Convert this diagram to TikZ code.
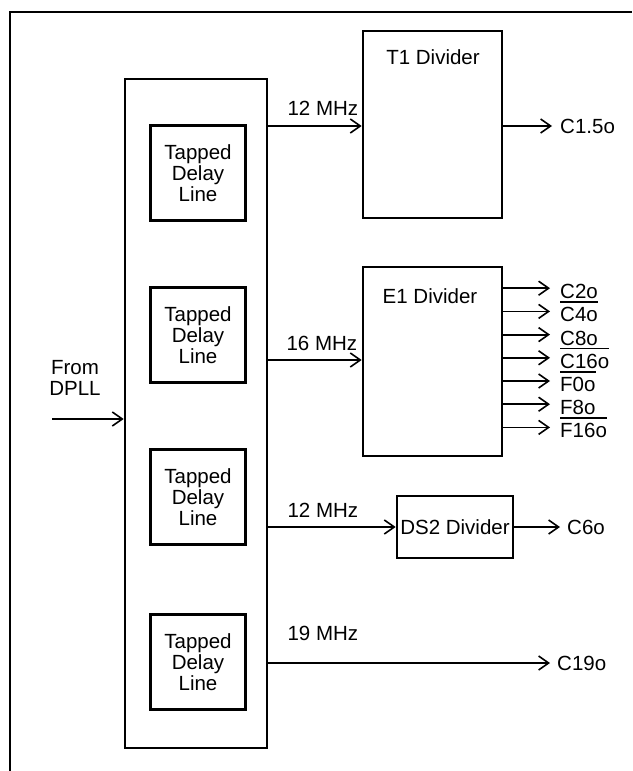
\documentclass[tikz,border=0pt]{standalone}
\usepackage{fontspec}
\setmainfont{Liberation Sans}
\usetikzlibrary{arrows.meta}

% overline with a clear gap above the label
\newcommand{\ovl}[1]{\setbox0=\hbox{#1}\rlap{\rule[\dimexpr\ht0+4.5pt\relax]{\wd0}{1.8pt}}\box0}

\begin{document}
\begin{tikzpicture}[x=1pt, y=-1pt,
    font=\fontsize{20.5}{21}\selectfont,
    box/.style={draw, line width=2.6pt, inner sep=0pt},
    sig/.style={line width=1.8pt, -{Straight Barb[length=10pt, width=14pt, line width=1.6pt]}},
    outlbl/.style={anchor=base west, inner sep=0pt}]
    \useasboundingbox (0,0) rectangle (632,771);

    % Page frame (only top and left edges show)
    \draw[line width=2.6pt] (10,771) -- (10,12) -- (632,12);

    % Delay line block with four tapped delay lines
    \node[box, minimum width=142pt, minimum height=669pt] (tdl) at (196,413.5) {};
    \foreach \y [count=\i] in {173,335,497,662}
        \node[box, minimum width=95pt, minimum height=95pt, align=center]
            (tap\i) at (198,\y) {Tapped\\Delay\\Line};

    % Input from DPLL
    \node[align=center] (from) at (75,378) {From\\DPLL};
    \coordinate (dpll) at (52,419);
    \draw[sig] (dpll) -- (dpll -| tdl.west);

    % Dividers
    \node[box, minimum width=139pt, minimum height=187pt] (T1) at (432.5,124.5) {};
    \node (T1txt) at (433,57) {T1 Divider};
    \node[box, minimum width=139pt, minimum height=189pt] (E1) at (432.5,361.5) {};
    \node (E1txt) at (430,296) {E1 Divider};
    \node[box, minimum width=116pt, minimum height=62pt] (DS2) at (455,527) {DS2 Divider};

    % Clocks from the delay line block
    \draw[sig] (tdl.east |- 0,126) -- (T1.west |- 0,126)
        node[pos=0, anchor=base west, xshift=15pt, yshift=11pt] {12 MHz};
    \draw[sig] (tdl.east |- 0,360) -- (E1.west |- 0,360)
        node[pos=0, anchor=base west, xshift=14pt, yshift=10pt] {16 MHz};
    \draw[sig] (tdl.east |- DS2) -- (DS2.west)
        node[pos=0, anchor=base west, xshift=15pt, yshift=10pt] {12 MHz};
    \coordinate (c19) at (550,663);
    \draw[sig] (tdl.east |- c19) -- (c19)
        node[pos=0, anchor=base west, xshift=15pt, yshift=23pt] {19 MHz};
    \node[outlbl] (c19o) at ([xshift=7pt, yshift=-7.5pt]c19) {C19o};

    % Divider outputs
    \coordinate (c15) at (552,126);
    \draw[sig] (T1.east |- c15) -- (c15);
    \node[outlbl] (c15o) at ([xshift=8pt, yshift=-7.5pt]c15) {C1.5o};
    \coordinate (c6) at (560,527);
    \draw[sig] (DS2.east |- c6) -- (c6);
    \node[outlbl] (c6o) at ([xshift=7pt, yshift=-7.5pt]c6) {C6o};
    \foreach \sname [count=\i] in {C2o,{\ovl{C4o}},C8o,{\ovl{C16o}},{\ovl{F0o}},F8o,{\ovl{F16o}}} {
        \coordinate (e\i) at (550,265+23.2*\i);
        \draw[sig] (E1.east |- e\i) -- (e\i);
        \node[outlbl] (eo\i) at ([xshift=10pt, yshift=-10.5pt]e\i) {\sname};
    }
\end{tikzpicture}
\end{document}
